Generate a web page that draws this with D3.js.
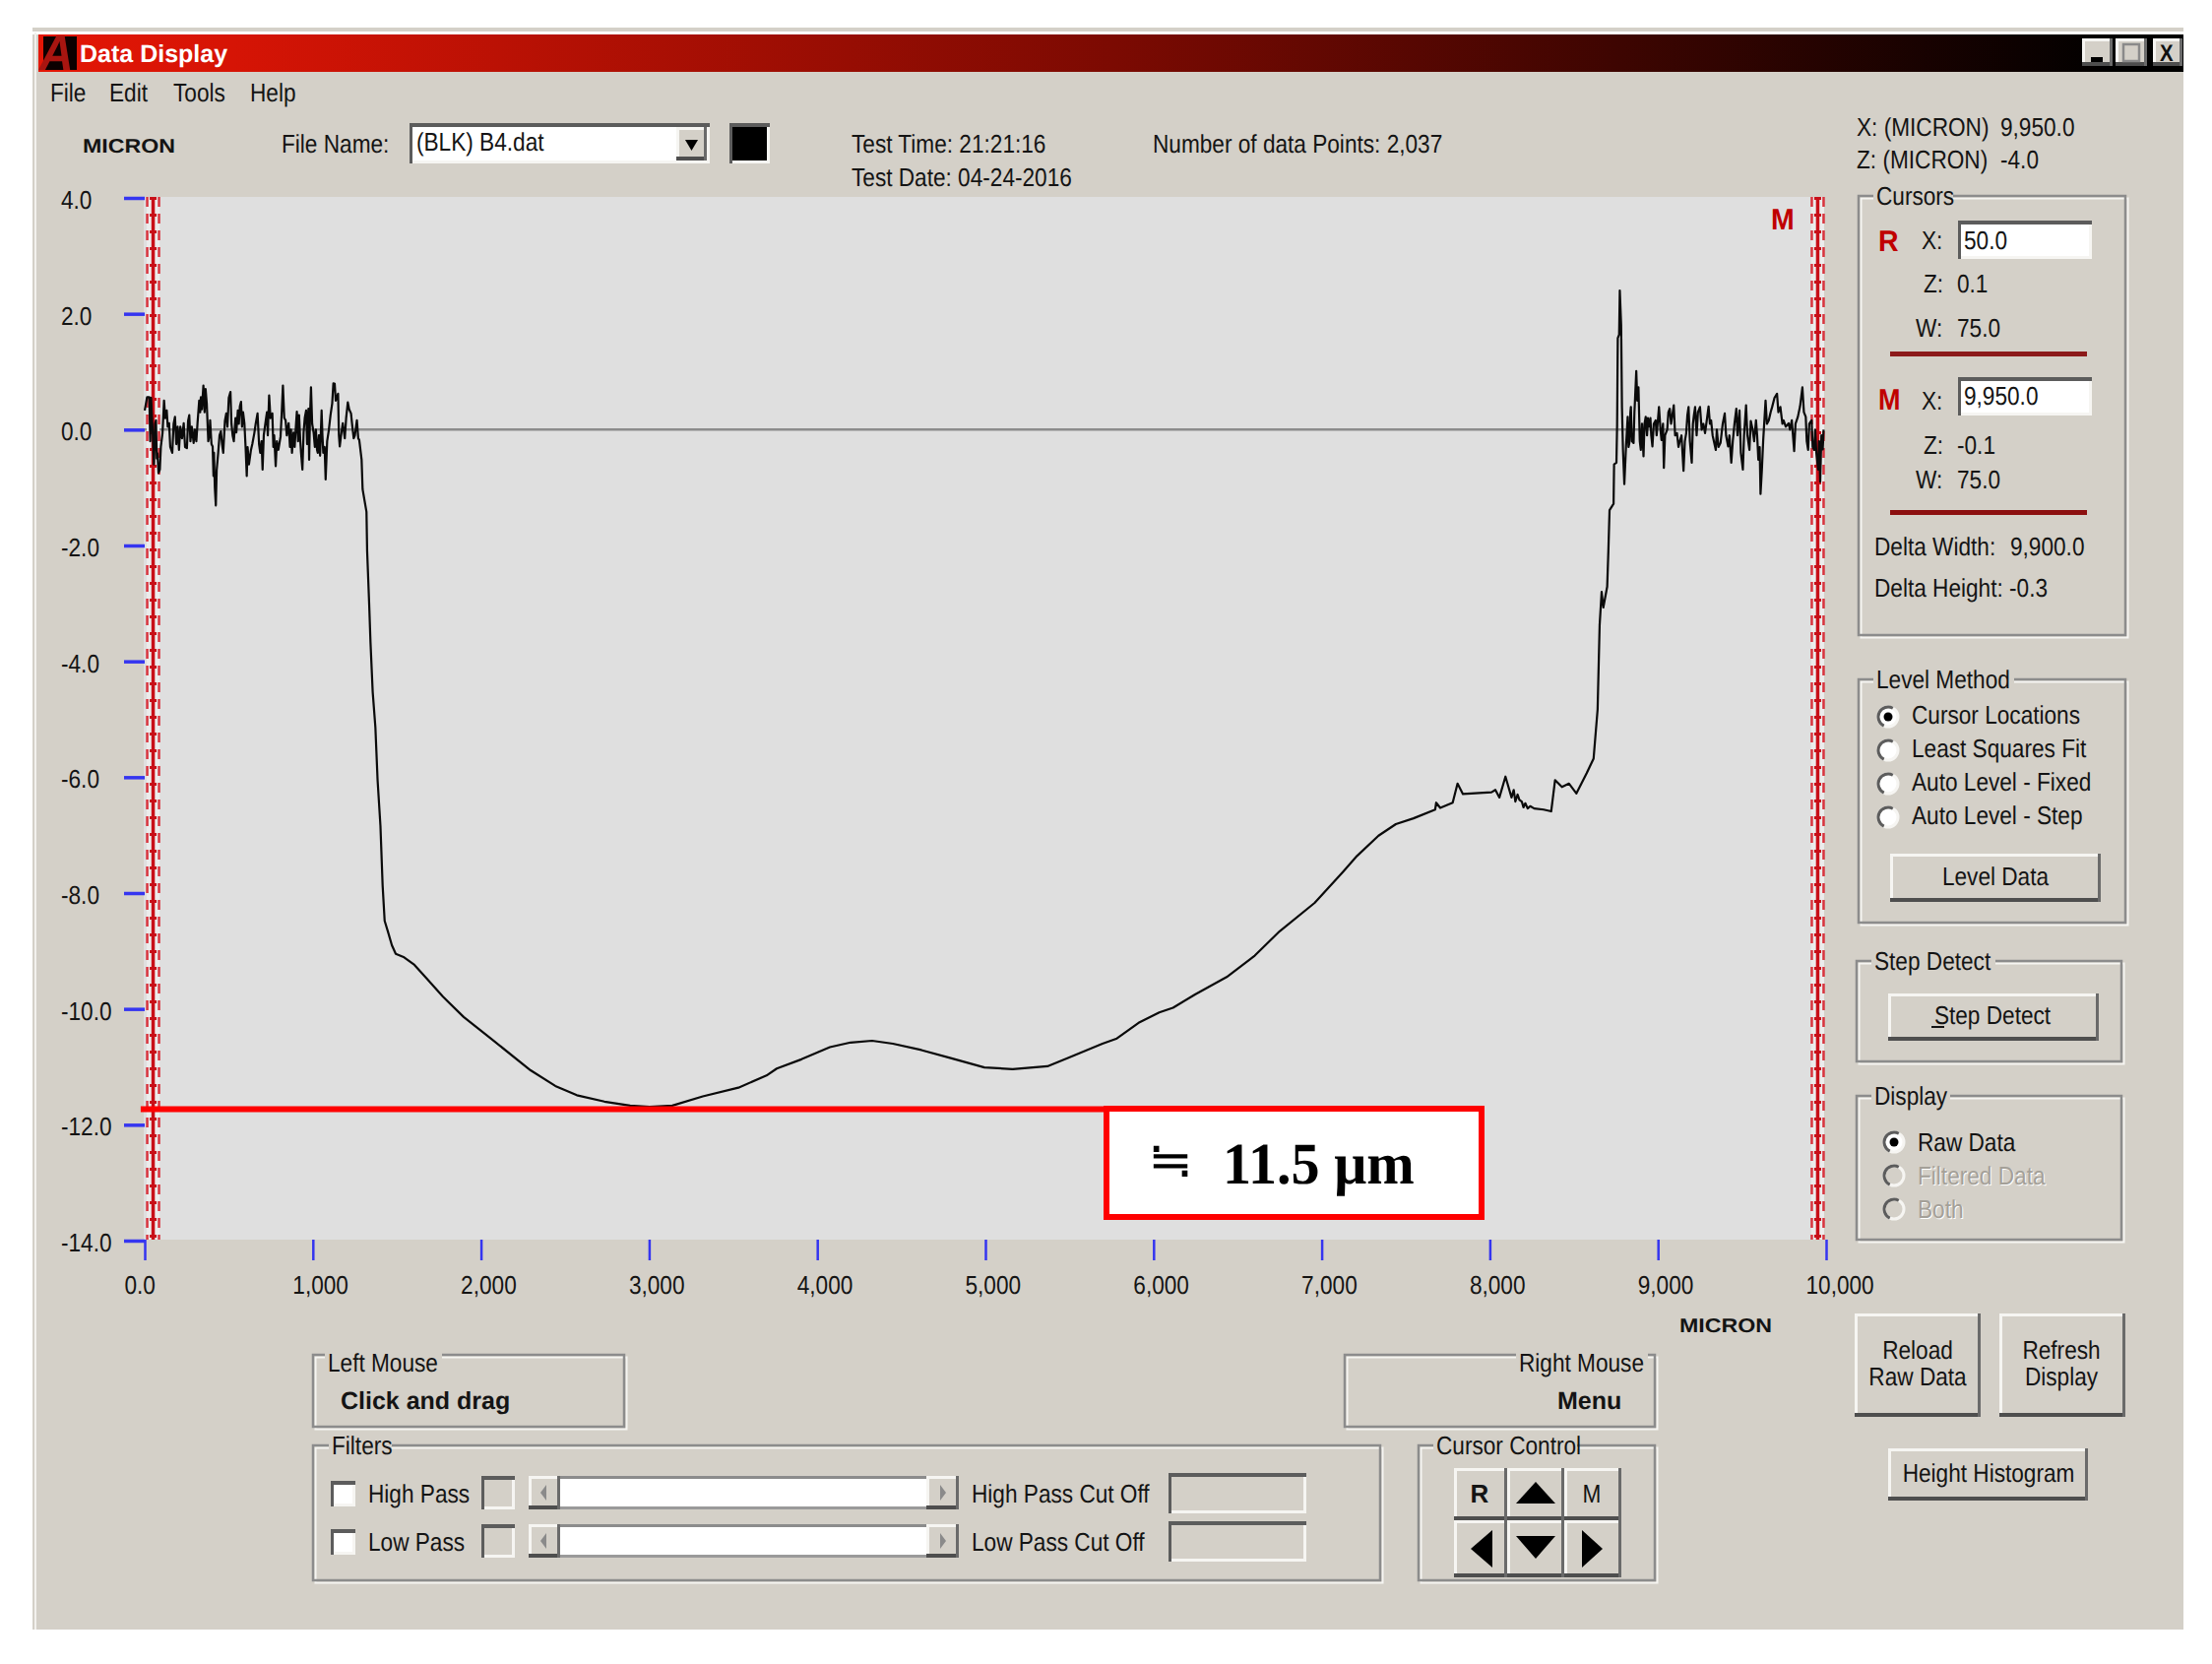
<!DOCTYPE html>
<html>
<head>
<meta charset="utf-8">
<title>Data Display</title>
<script src="https://cdn.jsdelivr.net/npm/d3@7/dist/d3.min.js"></script>
<style>
  html, body { margin: 0; background: #fff; overflow: hidden; }
  text { font-family: "Liberation Sans", Arial, sans-serif; text-rendering: geometricPrecision; }
</style>
</head>
<body>
<div id="chart"></div>
<script>
// Profile: [X, Z] in micron
const noiseLeft = [[0,.33],[14,.56],[27,.56],[33,-.2],[38,.55],[47,-.01],[55,-.6],[62,.1],[67,.16],[72,-.5],[76,-.41],[82,-.75],[90,-.69],[96,-.3],[106,-.06],[115,.5],[122,.2],[131,.33],[137,.05],[145,.11],[152,-.3],[164,-.4],[172,.1],[180,.22],[188,-.25],[196,.05],[204,-.35],[212,.05],[222,-.15],[232,.11],[240,-.3],[251,-.32],[258,.15],[265,.25],[272,-.2],[280,.05],[291,-.23],[298,0],[307,-.2],[314,.11],[324,.5],[330,.3],[334,.56],[340,.35],[349,.76],[356,.3],[362,.7],[369,.45],[378,-.2],[385,-.1],[389,.16],[397,-.25],[404,-.29],[409,-.8],[412,-.4],[417,-1],[423,-1.31],[428,-.7],[437,-.4],[445,-.1],[453,-.03],[460,-.25],[467,-.4],[477,.15],[485,.28],[492,.05],[500,.55],[510,.65],[516,.1],[523,-.1],[530,-.2],[540,.2],[545,-.05],[554,.33],[560,.1],[566,.4],[573,.48],[579,.05],[585,.3],[593,.11],[600,-.3],[607,-.8],[612,-.3],[620,-.6],[632,-.35],[640,-.25],[652,-.06],[660,.1],[671,.28],[680,-.25],[687,-.4],[695,-.2],[701,-.69],[708,-.1],[720,.16],[727,.3],[732,-.1],[740,.59],[748,.2],[759,.28],[765,-.3],[770,-.1],[779,-.63],[786,-.2],[795,-.35],[808,-.12],[815,.3],[822,.76],[830,.2],[838,.16],[845,-.1],[856,.11],[864,-.3],[870,0],[876,-.4],[885,-.05],[892,-.3],[900,.1],[905,.31],[912,-.2],[918,.25],[925,-.18],[930,-.4],[938,-.69],[945,-.05],[952,.2],[960,.33],[966,-.25],[974,.36],[978,-.52],[983,.2],[989,.73],[996,.1],[1005,-.06],[1012,-.3],[1018,0],[1025,-.35],[1029,-.4],[1036,-.1],[1043,-.45],[1052,.33],[1057,-.1],[1062,-.4],[1070,-.3],[1076,-.86],[1085,-.2],[1095,-.01],[1105,.25],[1115,.45],[1122,.8],[1130,.79],[1136,.5],[1150,.62],[1155,-.1],[1160,-.29],[1170,-.05],[1178,.11],[1190,-.15],[1198,.2],[1208,.47],[1216,.35],[1227,.28],[1235,.05],[1243,-.15],[1250,-.1],[1262,.16],[1270,-.15],[1276,-.18]];

const trench = [[1290,-.52],[1296,-1.03],[1319,-1.42],[1323,-2.1],[1335,-3.01],[1343,-3.68],[1356,-4.53],[1372,-5.14],[1385,-6.05],[1402,-6.84],[1415,-7.87],[1427,-8.48],[1446,-8.66],[1470,-8.9],[1493,-9.05],[1543,-9.11],[1604,-9.24],[1669,-9.45],[1774,-9.79],[1897,-10.14],[2067,-10.53],[2295,-11.06],[2442,-11.33],[2570,-11.49],[2734,-11.6],[2887,-11.67],[3003,-11.69],[3138,-11.67],[3319,-11.51],[3531,-11.36],[3698,-11.15],[3759,-11.03],[3906,-10.87],[4075,-10.66],[4198,-10.58],[4326,-10.55],[4450,-10.6],[4619,-10.71],[4783,-10.84],[4994,-11.01],[5162,-11.04],[5369,-10.99],[5498,-10.84],[5696,-10.6],[5782,-10.51],[5911,-10.24],[6034,-10.06],[6116,-9.98],[6247,-9.75],[6435,-9.45],[6602,-9.08],[6750,-8.66],[6958,-8.17],[7128,-7.63],[7210,-7.36],[7338,-7.01],[7441,-6.81],[7546,-6.71],[7675,-6.56],[7681,-6.44],[7705,-6.53],[7779,-6.44],[7808,-6.11],[7840,-6.29],[8010,-6.26],[8033,-6.22],[8057,-6.35],[8093,-5.99],[8129,-6.35],[8142,-6.22],[8152,-6.42],[8165,-6.3],[8176,-6.39],[8190,-6.42],[8200,-6.52],[8211,-6.45],[8225,-6.54],[8240,-6.5],[8264,-6.54],[8320,-6.56],[8365,-6.59],[8388,-6.05],[8429,-6.17],[8471,-6.11],[8515,-6.28],[8576,-5.93],[8617,-5.68],[8641,-4.83],[8653,-3.38],[8665,-2.8],[8675,-3.07],[8698,-2.71],[8705,-2.1]];

const noiseRight = [[8712,-1.39],[8736,-1.28],[8739,-.6],[8753,-.57],[8757,.08],[8761,1.58],[8769,1.64],[8773,2.4],[8781,1.81],[8786,.39],[8792,-.35],[8800,-.94],[8810,-.29],[8820,.22],[8825,-.3],[8830,-.23],[8836,.3],[8839,.39],[8845,-.2],[8855,-.23],[8860,.3],[8863,.48],[8871,1.01],[8877,.5],[8884,.73],[8892,-.2],[8898,-.35],[8905,.1],[8914,-.46],[8920,.1],[8927,.22],[8935,-.1],[8940,.2],[8947,.05],[8955,.2],[8960,-.1],[8967,-.29],[8975,.1],[8986,.16],[8992,-.1],[9006,.39],[9015,0],[9021,-.18],[9030,.1],[9035,-.66],[9042,-.1],[9055,0],[9062,.3],[9070,.36],[9078,.1],[9094,.42],[9102,-.1],[9113,-.06],[9122,-.3],[9130,-.2],[9140,-.1],[9152,-.71],[9160,-.2],[9168,-.06],[9175,.25],[9182,.39],[9190,-.2],[9201,-.57],[9208,.1],[9214,.25],[9221,.39],[9230,-.1],[9238,.3],[9250,.39],[9260,0],[9270,.1],[9280,-.06],[9292,.2],[9301,.4],[9309,.1],[9316,.16],[9325,-.1],[9344,-.35],[9350,0],[9360,-.3],[9372,-.23],[9385,.1],[9397,.28],[9405,-.1],[9417,-.29],[9425,-.1],[9436,-.57],[9445,-.2],[9455,.1],[9466,.36],[9473,-.1],[9485,.33],[9493,-.4],[9505,-.69],[9512,-.1],[9524,.42],[9532,-.1],[9544,-.35],[9552,.15],[9563,0],[9572,-.2],[9583,.16],[9590,-.1],[9597,-.52],[9605,-.3],[9610,-1.11],[9618,-.7],[9626,-.18],[9640,.5],[9648,.1],[9659,.16],[9670,.3],[9679,.39],[9693,.55],[9708,.62],[9716,.3],[9728,.39],[9740,.1],[9747,.16],[9760,.05],[9777,.11],[9785,0],[9796,.16],[9810,-.37],[9818,.1],[9832,.22],[9845,.4],[9859,.73],[9868,.3],[9879,.22],[9885,-.2],[9893,-.35],[9900,.1],[9914,.16],[9920,-.3],[9929,-.35],[9935,0],[9942,-.4],[9953,-.69],[9958,-.2],[9965,-.9],[9972,-.1],[9980,-.34],[9985,0]];

const xTicks = [0, 1000, 2000, 3000, 4000, 5000, 6000, 7000, 8000, 9000, 10000];
const xTickLabels = ['0.0', '1,000', '2,000', '3,000', '4,000', '5,000', '6,000', '7,000', '8,000', '9,000', '10,000'];
const zTicks = [4, 2, 0, -2, -4, -6, -8, -10, -12, -14];
const zTickLabels = ['4.0', '2.0', '0.0', '-2.0', '-4.0', '-6.0', '-8.0', '-10.0', '-12.0', '-14.0'];

const cursorX = [50, 9950];
const depthZ = -11.73;

const levelMethods = ['Cursor Locations', 'Least Squares Fit', 'Auto Level - Fixed', 'Auto Level - Step'];
const displayModes = ['Raw Data', 'Filtered Data', 'Both'];

const BG = '#d4d0c8';
const svgW = 2247;
const svgH = 1690;

const svg = d3.select('#chart').append('svg')
  .attr('width', svgW)
  .attr('height', svgH)
  .attr('viewBox', `0 0 ${svgW} ${svgH}`)
  .style('display', 'block');

const x = d3.scaleLinear().domain([0, 10000]).range([147, 1855]);
const z = d3.scaleLinear().domain([4, -14]).range([201, 1260]);

// Helpers for the window chrome
const gW = svg.append('g').attr('class', 'window');

const label = (str, px, py, o = {}) => (o.g || gW).append('text')
  .attr('transform', `translate(${px},${py}) scale(${o.sx || 0.87},1)`)
  .attr('text-anchor', o.anchor || 'start')
  .attr('font-size', o.size || 26)
  .attr('font-weight', o.bold ? 700 : 400)
  .attr('fill', o.fill || '#141414')
  .text(str);

const hLine = (x1, x2, y, color, w) => gW.append('line')
  .attr('x1', x1).attr('x2', x2).attr('y1', y).attr('y2', y)
  .attr('stroke', color).attr('stroke-width', w);
const vLine = (xp, y1, y2, color, w) => gW.append('line')
  .attr('x1', xp).attr('x2', xp).attr('y1', y1).attr('y2', y2)
  .attr('stroke', color).attr('stroke-width', w);

const box = (x0, y0, x1, y1, fill) => gW.append('rect')
  .attr('x', x0).attr('y', y0).attr('width', x1 - x0).attr('height', y1 - y0)
  .attr('fill', fill);

const raised = (x0, y0, x1, y1) => {
  box(x0, y0, x1, y1, BG);
  hLine(x0, x1, y0 + 1.5, '#f6f5f2', 3);
  vLine(x0 + 1.5, y0, y1, '#f6f5f2', 3);
  hLine(x0, x1, y1 - 2, '#4e4e4e', 4);
  vLine(x1 - 1.5, y0, y1, '#6a6a6a', 3);
};

const sunken = (x0, y0, x1, y1, fill) => {
  box(x0, y0, x1, y1, fill);
  hLine(x0, x1, y1 - 1.5, '#f6f5f2', 3);
  vLine(x1 - 1.5, y0, y1, '#f6f5f2', 3);
  hLine(x0, x1, y0 + 2, '#5c5c5c', 4);
  vLine(x0 + 1.5, y0, y1, '#5c5c5c', 3);
};

const groupBox = (x0, y0, x1, y1, title, tx, tw, ty) => {
  gW.append('rect').attr('x', x0 + 2.5).attr('y', y0 + 2.5)
    .attr('width', x1 - x0 - 2).attr('height', y1 - y0 - 2)
    .attr('fill', 'none').attr('stroke', '#f6f5f2').attr('stroke-width', 2);
  gW.append('rect').attr('x', x0).attr('y', y0)
    .attr('width', x1 - x0 - 2).attr('height', y1 - y0 - 2)
    .attr('fill', 'none').attr('stroke', '#8c8c8c').attr('stroke-width', 2.5);
  box(tx - 3, y0 - 4, tx + tw + 3, y0 + 6, BG);
  label(title, tx, ty || y0 + 9);
};

const radio = (cx, cy, selected, enabled) => {
  gW.append('circle').attr('cx', cx).attr('cy', cy).attr('r', 10)
    .attr('fill', enabled ? '#fff' : BG).attr('stroke', '#f6f5f2').attr('stroke-width', 3);
  gW.append('path')
    .attr('transform', `translate(${cx},${cy})`)
    .attr('d', d3.arc().innerRadius(8.5).outerRadius(11.5).startAngle(-2.7).endAngle(0.5)())
    .attr('fill', '#5c5c5c');
  if (selected) gW.append('circle').attr('cx', cx).attr('cy', cy).attr('r', 4.5).attr('fill', '#000');
};

const triangle = (pts) => gW.append('polygon').attr('points', pts.join(' ')).attr('fill', '#000');

// Window frame
box(33, 28, 2218, 1655, BG);
hLine(33, 2218, 33.5, '#fff', 3);
vLine(36, 33, 1655, '#f2f1ed', 2);

// Title bar
const grad = svg.append('defs').append('linearGradient').attr('id', 'titleGrad');
grad.append('stop').attr('offset', '0').attr('stop-color', '#e31606');
grad.append('stop').attr('offset', '0.09').attr('stop-color', '#d61405');
grad.append('stop').attr('offset', '0.5').attr('stop-color', '#7c0a02');
grad.append('stop').attr('offset', '0.97').attr('stop-color', '#000');
box(39, 35, 2218, 73, 'url(#titleGrad)');
box(44, 37, 78, 71, '#0c0000');
gW.append('text')
  .attr('transform', 'translate(40,71) scale(1,1.05)')
  .attr('font-size', 48).attr('font-weight', 700).attr('font-style', 'italic')
  .attr('fill', '#a81510').text('A');
label('Data Display', 81, 63, { size: 25, bold: true, fill: '#fff', sx: 1 });

[[2115, 2146], [2149, 2181], [2187, 2217]].forEach(([a, b]) => raised(a, 39, b, 67));
box(2124, 58, 2136, 63, '#000');
gW.append('rect').attr('x', 2157).attr('y', 45).attr('width', 16).attr('height', 17)
  .attr('fill', 'none').attr('stroke', '#8a8a8a').attr('stroke-width', 2.5);
label('X', 2194, 62, { size: 24, bold: true, fill: '#111', sx: 0.85 });

// Menu and header row
[['File', 51], ['Edit', 111], ['Tools', 176], ['Help', 254]].forEach(([m, mx]) => label(m, mx, 103));
label('MICRON', 84, 155, { size: 20, bold: true, sx: 1.16 });
label('File Name:', 286, 155);
sunken(416, 125, 721, 166, '#fff');
raised(687, 129, 718, 163);
triangle([[696, 142], [709, 142], [702.5, 153]]);
label('(BLK) B4.dat', 423, 153);
sunken(741, 125, 782, 166, '#000');
label('Test Time: 21:21:16', 865, 155);
label('Test Date: 04-24-2016', 865, 189);
label('Number of data Points: 2,037', 1171, 155);
label('X: (MICRON)', 1886, 138);
label('9,950.0', 2032, 138);
label('Z: (MICRON)', 1886, 171);
label('-4.0', 2032, 171);

// Plot
const gP = svg.append('g').attr('class', 'plot');
gP.append('rect')
  .attr('x', x(0) - 1)
  .attr('y', z(4) - 1)
  .attr('width', x(10000) - x(0) - 1)
  .attr('height', z(-14) - z(4))
  .attr('fill', '#dfdfdf');

// Axes, blue ticks and left-aligned labels as in the original
const gAX = gP.append('g')
  .attr('transform', `translate(0,${z(-14) - 1})`)
  .call(d3.axisBottom(x).tickValues(xTicks).tickSize(21).tickFormat((d, i) => xTickLabels[i]));
const gAZ = gP.append('g')
  .attr('transform', `translate(${x(0)},0)`)
  .call(d3.axisLeft(z).tickValues(zTicks).tickSize(21).tickFormat((d, i) => zTickLabels[i]));
[gAX, gAZ].forEach((a) => {
  a.attr('font-size', 26).attr('font-family', null);
  a.select('.domain').remove();
  a.selectAll('.tick line').attr('stroke', '#3535f0');
  a.selectAll('.tick text').attr('fill', '#141414').attr('x', null).attr('y', null).attr('dy', null);
});
gAX.selectAll('.tick line').attr('stroke-width', 2.5);
gAZ.selectAll('.tick line').attr('stroke-width', 3.5);
gAX.selectAll('.tick text').attr('text-anchor', 'start')
  .attr('transform', 'translate(-21,55) scale(0.87,1)');
gAZ.selectAll('.tick text').attr('text-anchor', 'start')
  .attr('transform', 'translate(-85,10.5) scale(0.87,1)');

// Zero line
gP.append('line')
  .attr('x1', x(0)).attr('x2', x(10000) - 2)
  .attr('y1', z(0)).attr('y2', z(0))
  .attr('stroke', '#8c8c8c').attr('stroke-width', 2.5);

// Cursors
cursorX.forEach((c) => {
  const g = gP.append('g').attr('class', 'cursor');
  [[0, 13, '#ececec', null], [-6, 2.5, '#d8343e', '10 7'], [6, 2.5, '#d8343e', '10 7'], [0, 3.5, '#c80f18', null], [0, 7, '#c80f18', '3 14']].forEach(([dx, w, col, dash]) => {
    g.append('line')
      .attr('x1', x(c) + dx).attr('x2', x(c) + dx)
      .attr('y1', z(4) - 1).attr('y2', z(-14) - 1)
      .attr('stroke', col).attr('stroke-width', w)
      .attr('stroke-dasharray', dash);
  });
});

// Profile
const profile = noiseLeft.concat(trench, noiseRight);
const line = d3.line().x((d) => x(d[0])).y((d) => z(d[1]));
gP.append('path')
  .attr('d', line(profile))
  .attr('fill', 'none')
  .attr('stroke', '#0a0a0a')
  .attr('stroke-width', 2.2)
  .attr('stroke-linejoin', 'round');

label('M', 1799, 233, { g: gP, size: 30, bold: true, fill: '#c00000', sx: 0.95 });

// Depth annotation
const gA = svg.append('g').attr('class', 'annotation');
gA.append('line')
  .attr('x1', x(-24)).attr('x2', 1124)
  .attr('y1', z(depthZ)).attr('y2', z(depthZ))
  .attr('stroke', '#fe0000').attr('stroke-width', 6);
gA.append('rect')
  .attr('x', 1124).attr('y', 1126).attr('width', 381).attr('height', 110)
  .attr('fill', '#fff').attr('stroke', '#fe0000').attr('stroke-width', 6);
gA.append('text')
  .attr('transform', 'translate(1166,1195) scale(1.1,1)')
  .attr('font-size', 50)
  .style('font-family', '"Noto Sans CJK JP"')
  .text('≒');
gA.append('text')
  .attr('transform', 'translate(1242,1202) scale(0.97,1)')
  .attr('font-size', 60).attr('font-weight', 700)
  .style('font-family', '"Liberation Serif", serif')
  .text('11.5 μm');

// Cursors panel
groupBox(1888, 199, 2161, 647, 'Cursors', 1906, 75);
label('R', 1908, 255, { size: 30, bold: true, fill: '#c00000', sx: 0.95 });
label('X:', 1952, 253);
sunken(1989, 224, 2125, 263, '#fff');
label('50.0', 1995, 253);
label('Z:', 1954, 297);
label('0.1', 1988, 297);
label('W:', 1946, 342);
label('75.0', 1988, 342);
box(1920, 357, 2120, 362, '#8c1a1a');
label('M', 1908, 416, { size: 30, bold: true, fill: '#c00000', sx: 0.9 });
label('X:', 1952, 416);
sunken(1989, 383, 2125, 422, '#fff');
label('9,950.0', 1995, 411);
label('Z:', 1954, 461);
label('-0.1', 1988, 461);
label('W:', 1946, 496);
label('75.0', 1988, 496);
box(1920, 518, 2120, 523, '#8c0f0f');
label('Delta Width:', 1904, 564);
label('9,900.0', 2042, 564);
label('Delta Height: -0.3', 1904, 606);

// Level method panel
groupBox(1888, 690, 2161, 939, 'Level Method', 1906, 137);
levelMethods.forEach((m, i) => {
  radio(1918, 728 + i * 34, i === 0, true);
  label(m, 1942, 735 + i * 34);
});
raised(1920, 867, 2134, 916);
label('Level Data', 2027, 899, { anchor: 'middle' });

// Step detect panel
groupBox(1886, 976, 2157, 1080, 'Step Detect', 1904, 120);
raised(1918, 1009, 2132, 1057);
label('Step Detect', 2024, 1040, { anchor: 'middle' });
hLine(1962, 1975, 1043, '#141414', 2);

// Display panel
groupBox(1886, 1113, 2157, 1261, 'Display', 1904, 74);
displayModes.forEach((m, i) => {
  const yy = [1160, 1194, 1228][i];
  radio(1924, yy, i === 0, i === 0);
  if (i > 0) label(m, 1949, yy + 10, { fill: '#fff' });
  label(m, 1948, yy + 9, { fill: i === 0 ? '#141414' : '#a4a098' });
});

// X axis unit and the buttons at the right
label('MICRON', 1706, 1353, { size: 20, bold: true, sx: 1.16 });
raised(1884, 1334, 2012, 1439);
label('Reload', 1948, 1380, { anchor: 'middle' });
label('Raw Data', 1948, 1407, { anchor: 'middle' });
raised(2031, 1334, 2159, 1439);
label('Refresh', 2094, 1380, { anchor: 'middle' });
label('Display', 2094, 1407, { anchor: 'middle' });
raised(1918, 1471, 2121, 1524);
label('Height Histogram', 2020, 1505, { anchor: 'middle' });

// Mouse boxes
groupBox(318, 1376, 636, 1451, 'Left Mouse', 333, 113, 1393);
label('Click and drag', 346, 1431, { size: 25, bold: true, sx: 1 });
groupBox(1366, 1376, 1683, 1451, 'Right Mouse', 1543, 128, 1393);
label('Menu', 1582, 1431, { size: 25, bold: true, sx: 1 });

// Filters
groupBox(318, 1468, 1404, 1607, 'Filters', 337, 58);
[['High Pass', 'High Pass Cut Off', 1499], ['Low Pass', 'Low Pass Cut Off', 1548]].forEach(([a, b, yy]) => {
  sunken(336, yy + 5, 361, yy + 31, '#fff');
  label(a, 374, yy + 27);
  sunken(489, yy, 523, yy + 34, BG);
  box(537, yy, 974, yy + 34, '#fff');
  hLine(537, 974, yy + 1.5, '#8c8c8c', 3);
  hLine(537, 974, yy + 32.5, '#9a9a9a', 3);
  raised(537, yy, 569, yy + 34);
  raised(941, yy, 974, yy + 34);
  triangle([[549, yy + 17], [555, yy + 9], [555, yy + 25]]).attr('fill', '#8a8a8a');
  triangle([[961, yy + 17], [955, yy + 9], [955, yy + 25]]).attr('fill', '#8a8a8a');
  label(b, 987, yy + 27);
  sunken(1187, yy - 3, 1327, yy + 38, BG);
});

// Cursor control
groupBox(1441, 1468, 1683, 1607, 'Cursor Control', 1459, 140);
raised(1477, 1491, 1531, 1544);
raised(1531, 1491, 1589, 1544);
raised(1589, 1491, 1647, 1544);
raised(1477, 1544, 1531, 1602);
raised(1531, 1544, 1589, 1602);
raised(1589, 1544, 1647, 1602);
label('R', 1503, 1526, { anchor: 'middle', bold: true, sx: 1 });
label('M', 1617, 1526, { anchor: 'middle' });
triangle([[1560, 1505], [1540, 1527], [1580, 1527]]);
triangle([[1540, 1560], [1580, 1560], [1560, 1583]]);
triangle([[1494, 1573], [1516, 1554], [1516, 1592]]);
triangle([[1628, 1573], [1607, 1554], [1607, 1592]]);
</script>
</body>
</html>
